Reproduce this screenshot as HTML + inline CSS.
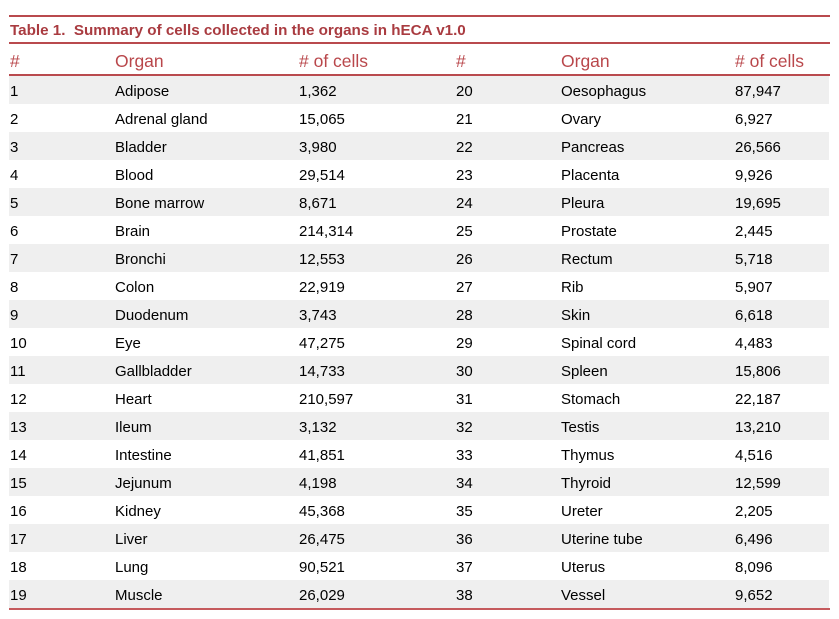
<!DOCTYPE html>
<html>
<head>
<meta charset="utf-8">
<style>
  html, body { margin:0; padding:0; background:#fff; }
  body { width:839px; height:619px; position:relative; overflow:hidden;
         font-family:"Liberation Sans", Arial, sans-serif; }
  .line { position:absolute; left:9px; width:821px; height:2px; background:#b94a4e; }
  .title { position:absolute; left:10px; top:21px; line-height:20px; font-size:15.2px;
           font-weight:bold; color:#a93b40; white-space:nowrap; }
  .hdr { position:absolute; top:51px; line-height:20px; font-size:17.5px; color:#b9474b; white-space:nowrap; }
  .row { position:absolute; left:9px; width:820px; height:28px; }
  .row.g { background:#efefef; }
  .c { position:absolute; top:2px; line-height:28px; font-size:15px; color:#000; white-space:nowrap; }
</style>
</head>
<body>
<div class="line" style="top:15px"></div>
<div class="title">Table 1.&nbsp; Summary of cells collected in the organs in hECA v1.0</div>
<div class="line" style="top:42px"></div>

<div class="hdr" style="left:10px">#</div>
<div class="hdr" style="left:115px">Organ</div>
<div class="hdr" style="left:299px"># of cells</div>
<div class="hdr" style="left:456px">#</div>
<div class="hdr" style="left:561px">Organ</div>
<div class="hdr" style="left:735px"># of cells</div>
<div class="line" style="top:74px"></div>

<div class="row g" style="top:76px"><span class="c" style="left:1px">1</span><span class="c" style="left:106px">Adipose</span><span class="c" style="left:290px">1,362</span><span class="c" style="left:447px">20</span><span class="c" style="left:552px">Oesophagus</span><span class="c" style="left:726px">87,947</span></div>
<div class="row" style="top:104px"><span class="c" style="left:1px">2</span><span class="c" style="left:106px">Adrenal gland</span><span class="c" style="left:290px">15,065</span><span class="c" style="left:447px">21</span><span class="c" style="left:552px">Ovary</span><span class="c" style="left:726px">6,927</span></div>
<div class="row g" style="top:132px"><span class="c" style="left:1px">3</span><span class="c" style="left:106px">Bladder</span><span class="c" style="left:290px">3,980</span><span class="c" style="left:447px">22</span><span class="c" style="left:552px">Pancreas</span><span class="c" style="left:726px">26,566</span></div>
<div class="row" style="top:160px"><span class="c" style="left:1px">4</span><span class="c" style="left:106px">Blood</span><span class="c" style="left:290px">29,514</span><span class="c" style="left:447px">23</span><span class="c" style="left:552px">Placenta</span><span class="c" style="left:726px">9,926</span></div>
<div class="row g" style="top:188px"><span class="c" style="left:1px">5</span><span class="c" style="left:106px">Bone marrow</span><span class="c" style="left:290px">8,671</span><span class="c" style="left:447px">24</span><span class="c" style="left:552px">Pleura</span><span class="c" style="left:726px">19,695</span></div>
<div class="row" style="top:216px"><span class="c" style="left:1px">6</span><span class="c" style="left:106px">Brain</span><span class="c" style="left:290px">214,314</span><span class="c" style="left:447px">25</span><span class="c" style="left:552px">Prostate</span><span class="c" style="left:726px">2,445</span></div>
<div class="row g" style="top:244px"><span class="c" style="left:1px">7</span><span class="c" style="left:106px">Bronchi</span><span class="c" style="left:290px">12,553</span><span class="c" style="left:447px">26</span><span class="c" style="left:552px">Rectum</span><span class="c" style="left:726px">5,718</span></div>
<div class="row" style="top:272px"><span class="c" style="left:1px">8</span><span class="c" style="left:106px">Colon</span><span class="c" style="left:290px">22,919</span><span class="c" style="left:447px">27</span><span class="c" style="left:552px">Rib</span><span class="c" style="left:726px">5,907</span></div>
<div class="row g" style="top:300px"><span class="c" style="left:1px">9</span><span class="c" style="left:106px">Duodenum</span><span class="c" style="left:290px">3,743</span><span class="c" style="left:447px">28</span><span class="c" style="left:552px">Skin</span><span class="c" style="left:726px">6,618</span></div>
<div class="row" style="top:328px"><span class="c" style="left:1px">10</span><span class="c" style="left:106px">Eye</span><span class="c" style="left:290px">47,275</span><span class="c" style="left:447px">29</span><span class="c" style="left:552px">Spinal cord</span><span class="c" style="left:726px">4,483</span></div>
<div class="row g" style="top:356px"><span class="c" style="left:1px">11</span><span class="c" style="left:106px">Gallbladder</span><span class="c" style="left:290px">14,733</span><span class="c" style="left:447px">30</span><span class="c" style="left:552px">Spleen</span><span class="c" style="left:726px">15,806</span></div>
<div class="row" style="top:384px"><span class="c" style="left:1px">12</span><span class="c" style="left:106px">Heart</span><span class="c" style="left:290px">210,597</span><span class="c" style="left:447px">31</span><span class="c" style="left:552px">Stomach</span><span class="c" style="left:726px">22,187</span></div>
<div class="row g" style="top:412px"><span class="c" style="left:1px">13</span><span class="c" style="left:106px">Ileum</span><span class="c" style="left:290px">3,132</span><span class="c" style="left:447px">32</span><span class="c" style="left:552px">Testis</span><span class="c" style="left:726px">13,210</span></div>
<div class="row" style="top:440px"><span class="c" style="left:1px">14</span><span class="c" style="left:106px">Intestine</span><span class="c" style="left:290px">41,851</span><span class="c" style="left:447px">33</span><span class="c" style="left:552px">Thymus</span><span class="c" style="left:726px">4,516</span></div>
<div class="row g" style="top:468px"><span class="c" style="left:1px">15</span><span class="c" style="left:106px">Jejunum</span><span class="c" style="left:290px">4,198</span><span class="c" style="left:447px">34</span><span class="c" style="left:552px">Thyroid</span><span class="c" style="left:726px">12,599</span></div>
<div class="row" style="top:496px"><span class="c" style="left:1px">16</span><span class="c" style="left:106px">Kidney</span><span class="c" style="left:290px">45,368</span><span class="c" style="left:447px">35</span><span class="c" style="left:552px">Ureter</span><span class="c" style="left:726px">2,205</span></div>
<div class="row g" style="top:524px"><span class="c" style="left:1px">17</span><span class="c" style="left:106px">Liver</span><span class="c" style="left:290px">26,475</span><span class="c" style="left:447px">36</span><span class="c" style="left:552px">Uterine tube</span><span class="c" style="left:726px">6,496</span></div>
<div class="row" style="top:552px"><span class="c" style="left:1px">18</span><span class="c" style="left:106px">Lung</span><span class="c" style="left:290px">90,521</span><span class="c" style="left:447px">37</span><span class="c" style="left:552px">Uterus</span><span class="c" style="left:726px">8,096</span></div>
<div class="row g" style="top:580px"><span class="c" style="left:1px">19</span><span class="c" style="left:106px">Muscle</span><span class="c" style="left:290px">26,029</span><span class="c" style="left:447px">38</span><span class="c" style="left:552px">Vessel</span><span class="c" style="left:726px">9,652</span></div>

<div class="line" style="top:608px; background:#c55a5d"></div>
</body>
</html>
